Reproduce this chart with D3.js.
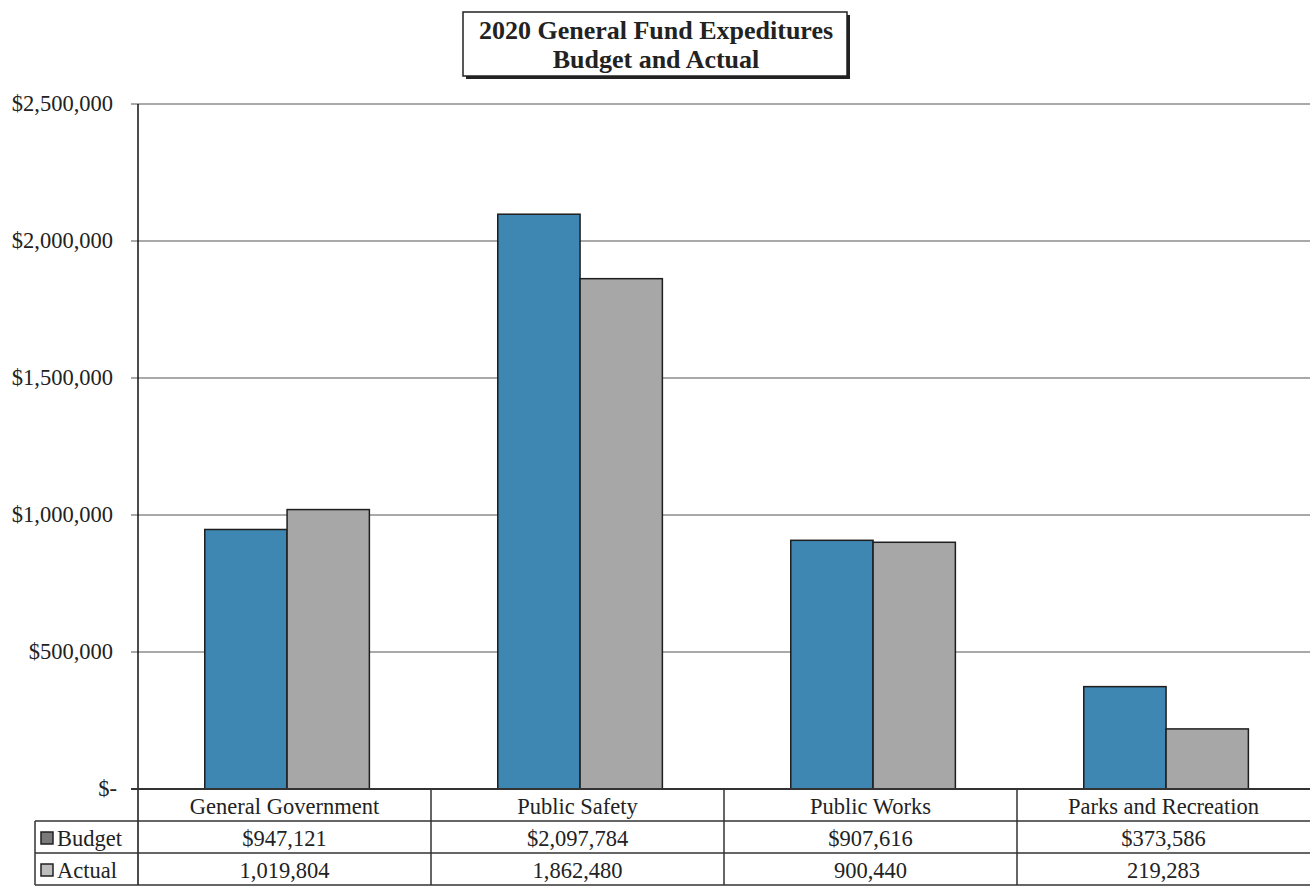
<html>
<head>
<script src="https://d3js.org/d3.v7.min.js"></script>
<style>
  body { margin: 0; background: #fff; }
  text { font-family: "Liberation Serif", "Times New Roman", serif; fill: #222; }
</style>
</head>
<body>
<script>

var categories = ["General Government", "Public Safety", "Public Works", "Parks and Recreation"];
var seriesNames = ["Budget", "Actual"];
var budget = [947121, 2097784, 907616, 373586];
var actual = [1019804, 1862480, 900440, 219283];
var budgetLabels = ["$947,121", "$2,097,784", "$907,616", "$373,586"];
var actualLabels = ["1,019,804", "1,862,480", "900,440", "219,283"];
var yTicks = [0, 500000, 1000000, 1500000, 2000000, 2500000];
var yTickLabels = ["$-", "$500,000", "$1,000,000", "$1,500,000", "$2,000,000", "$2,500,000"];

var width = 1310, height = 886;
var plotLeft = 138, plotRight = 1310, plotTop = 104, plotBottom = 789;
var rowH = 32;

var colors = { Budget: "#3e87b3", Actual: "#a7a7a7" };
var markerColors = { Budget: "#7a7a7a", Actual: "#bdbdbd" };

var svg = d3.select("body").append("svg")
  .attr("width", width)
  .attr("height", height);

var x0 = d3.scaleBand().domain(categories).range([plotLeft, plotRight]).padding(0);
var x1 = d3.scaleBand().domain(seriesNames).range([0, x0.bandwidth()])
  .paddingInner(0).paddingOuter(0.78).align(0.52);
var y = d3.scaleLinear().domain([0, 2500000]).range([plotBottom, plotTop]);

// gridlines and ticks
svg.append("g").selectAll("line")
  .data(yTicks.slice(1))
  .enter().append("line")
  .attr("x1", plotLeft - 7).attr("x2", plotRight)
  .attr("y1", function(d){ return y(d); })
  .attr("y2", function(d){ return y(d); })
  .attr("stroke", "#8c8c8c")
  .attr("stroke-width", 1.5);

svg.append("g").selectAll("text")
  .data(yTicks)
  .enter().append("text")
  .attr("x", function(d){ return d === 0 ? 117 : 113; })
  .attr("y", function(d){ return y(d) + 7; })
  .attr("text-anchor", "end")
  .style("font-size", "22.5px")
  .text(function(d, i){ return yTickLabels[i]; });

// bars
var data = categories.map(function(c, i){
  return { cat: c, vals: [{ s: "Budget", v: budget[i] }, { s: "Actual", v: actual[i] }] };
});

var groups = svg.append("g").selectAll("g")
  .data(data)
  .enter().append("g")
  .attr("transform", function(d){ return "translate(" + x0(d.cat) + ",0)"; });

groups.selectAll("rect")
  .data(function(d){ return d.vals; })
  .enter().append("rect")
  .attr("x", function(d){ return x1(d.s); })
  .attr("width", x1.bandwidth())
  .attr("y", function(d){ return y(d.v); })
  .attr("height", function(d){ return y(0) - y(d.v); })
  .attr("fill", function(d){ return colors[d.s]; })
  .attr("stroke", "#1e1e1e")
  .attr("stroke-width", 1.5);

// axis lines
svg.append("line")
  .attr("x1", plotLeft).attr("x2", plotLeft)
  .attr("y1", plotTop).attr("y2", plotBottom + rowH * 3)
  .attr("stroke", "#111").attr("stroke-width", 1.5);
svg.append("line")
  .attr("x1", plotLeft - 7).attr("x2", plotRight)
  .attr("y1", plotBottom).attr("y2", plotBottom)
  .attr("stroke", "#333").attr("stroke-width", 2);

// data table
var table = svg.append("g");
[1, 2, 3].forEach(function(r){
  table.append("line")
    .attr("x1", 35).attr("x2", plotRight)
    .attr("y1", plotBottom + rowH * r).attr("y2", plotBottom + rowH * r)
    .attr("stroke", "#333").attr("stroke-width", 1.5);
});
table.append("line")
  .attr("x1", 35).attr("x2", 35)
  .attr("y1", plotBottom + rowH).attr("y2", plotBottom + rowH * 3)
  .attr("stroke", "#333").attr("stroke-width", 1.5);
table.selectAll("line.div")
  .data(categories.slice(1))
  .enter().append("line")
  .attr("class", "div")
  .attr("x1", function(d){ return x0(d); })
  .attr("x2", function(d){ return x0(d); })
  .attr("y1", plotBottom).attr("y2", plotBottom + rowH * 3)
  .attr("stroke", "#333").attr("stroke-width", 1.5);

var rows = [categories, budgetLabels, actualLabels];
rows.forEach(function(row, r){
  table.selectAll("text.r" + r)
    .data(row)
    .enter().append("text")
    .attr("class", "r" + r)
    .attr("x", function(d, i){ return x0(categories[i]) + x0.bandwidth() / 2; })
    .attr("y", plotBottom + rowH * r + 25)
    .attr("text-anchor", "middle")
    .style("font-size", "22.5px")
    .text(function(d){ return d; });
});

seriesNames.forEach(function(s, i){
  var ry = plotBottom + rowH * (i + 1);
  table.append("rect")
    .attr("x", 41).attr("y", ry + 11)
    .attr("width", 12).attr("height", 12)
    .attr("fill", markerColors[s])
    .attr("stroke", "#222").attr("stroke-width", 1.5);
  table.append("text")
    .attr("x", 57).attr("y", ry + 25)
    .style("font-size", "22.5px")
    .text(s);
});

// title box
var title = svg.append("g");
title.append("rect")
  .attr("x", 466).attr("y", 15)
  .attr("width", 384).attr("height", 64)
  .attr("fill", "#222");
title.append("rect")
  .attr("x", 463).attr("y", 12)
  .attr("width", 384).attr("height", 64)
  .attr("fill", "#fff")
  .attr("stroke", "#222").attr("stroke-width", 1.5);
title.append("text")
  .attr("x", 656).attr("y", 39)
  .attr("text-anchor", "middle")
  .style("font-size", "26px").style("font-weight", "bold")
  .text("2020 General Fund Expeditures");
title.append("text")
  .attr("x", 656).attr("y", 68)
  .attr("text-anchor", "middle")
  .style("font-size", "26px").style("font-weight", "bold")
  .text("Budget and Actual");

</script>
</body>
</html>
